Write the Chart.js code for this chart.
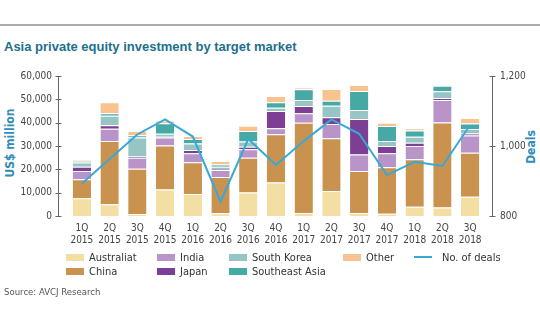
<!DOCTYPE html>
<html>
<head>
<meta charset="utf-8">
<script src="https://cdn.jsdelivr.net/npm/chart.js@4"></script>
<style>
  body { margin: 0; background: #fff; }
  #wrap { position: relative; width: 540px; height: 334px; overflow: hidden; font-family: "DejaVu Sans Condensed", "Liberation Sans Narrow", sans-serif; }
  #topline { position: absolute; left: 0; top: 24px; width: 540px; height: 2px; background: #aaa; }
  #title { position: absolute; left: 4px; top: 39px; font-family: "Liberation Sans Narrow", sans-serif; font-size: 13px; font-weight: bold; color: #1d6f8e; white-space: nowrap; }
  .ytitle { position: absolute; font-size: 12px; font-weight: bold; color: #2f8db8; white-space: nowrap; transform: translate(-50%, -50%) rotate(-90deg); }
  #source { position: absolute; left: 4px; top: 286px; font-size: 9.5px; color: #555; }
  .lg { position: absolute; font-size: 11px; color: #333; white-space: nowrap; line-height: 14px; }
  .lg i { display: inline-block; width: 18px; height: 7px; margin-right: 5px; vertical-align: 0px; }
  canvas { position: absolute; left: 0; top: 0; }
</style>
</head>
<body>
<div id="wrap">
  <div id="topline"></div>
  <div id="title">Asia private equity investment by target market</div>
  <div class="ytitle" style="left:10px; top:143px;">US$ million</div>
  <div class="ytitle" style="left:531px; top:147px;">Deals</div>
  <canvas id="g1" width="540" height="334"></canvas>
  <div id="legend"></div>
  <div id="source">Source: AVCJ Research</div>
</div>
<script>
// quarters on the x axis
var quarters = ['1Q','2Q','3Q','4Q','1Q','2Q','3Q','4Q','1Q','2Q','3Q','4Q','1Q','2Q','3Q'];
var years = ['2015','2015','2015','2015','2016','2016','2016','2016','2017','2017','2017','2017','2018','2018','2018'];

// investment by target market (US$ million)
var australia = [7600, 5000, 900, 11400, 9400, 1200, 10100, 14400, 1300, 10700, 1300, 1000, 4000, 3600, 8300];
var china     = [8100, 27100, 19300, 18800, 13600, 15500, 14900, 20600, 38700, 22600, 18000, 19900, 20300, 36500, 18800];
var india     = [3600, 5300, 4800, 3400, 3900, 3000, 3600, 2600, 4000, 6100, 7100, 6000, 5700, 9600, 7400];
var japan     = [1800, 1500, 500, 400, 1400, 400, 1100, 7400, 3100, 2900, 15200, 3100, 1400, 800, 900];
var southKorea = [1800, 4100, 8100, 1300, 2800, 1000, 2200, 1400, 2600, 5000, 3800, 2100, 2600, 3000, 1900];
var southeastAsia = [800, 1000, 1000, 4400, 1900, 1000, 4500, 2300, 4600, 2100, 8200, 6500, 2600, 2300, 2300];
var other     = [400, 4700, 1800, 1200, 1300, 1500, 2300, 2700, 700, 5000, 2500, 1400, 1000, 200, 2400];

// number of deals (right axis)
var deals = [893, 963, 1033, 1076, 1027, 841, 1020, 946, 1014, 1076, 1035, 917, 955, 943, 1060];

var labels = quarters.map(function(q, i) { return [q, years[i]]; });

var series = [
    { label: 'Australiat', data: australia, color: '#f3dfa3' },
    { label: 'China', data: china, color: '#c9924f' },
    { label: 'India', data: india, color: '#b994c9' },
    { label: 'Japan', data: japan, color: '#7c3f95' },
    { label: 'South Korea', data: southKorea, color: '#97c5c6' },
    { label: 'Southeast Asia', data: southeastAsia, color: '#47a9a6' },
    { label: 'Other', data: other, color: '#f8c38f' }
];
var lineColor = '#38a9d7';

var datasets = series.map(function(s) {
    return {
        label: s.label,
        data: s.data,
        backgroundColor: s.color,
        borderColor: '#fff',
        borderWidth: { top: 1, bottom: 0, left: 0, right: 0 },
        borderSkipped: false,
        barPercentage: 0.66,
        categoryPercentage: 1,
        stack: 's',
        yAxisID: 'y',
        order: 1
    };
});
datasets.push({
    type: 'line',
    label: 'No. of deals',
    data: deals,
    borderColor: lineColor,
    backgroundColor: lineColor,
    borderWidth: 2,
    pointRadius: 0,
    tension: 0,
    yAxisID: 'y1',
    order: 0
});

// axis lines sit a little outside the bars
var axisLines = {
    id: 'axisLines',
    afterDraw: function(chart) {
        var ctx = chart.ctx, a = chart.chartArea;
        var lx = Math.round(a.left - 10) + 0.5, rx = Math.round(a.right + 8) + 0.5;
        ctx.save();
        ctx.strokeStyle = '#666';
        ctx.lineWidth = 1;
        ctx.beginPath();
        ctx.moveTo(lx, a.top); ctx.lineTo(lx, a.bottom);
        ctx.moveTo(rx, a.top); ctx.lineTo(rx, a.bottom);
        chart.scales.y.ticks.forEach(function(t) {
            var y = Math.round(chart.scales.y.getPixelForValue(t.value)) + 0.5;
            ctx.moveTo(lx - 3, y); ctx.lineTo(lx + 3, y);
        });
        chart.scales.y1.ticks.forEach(function(t) {
            var y = Math.round(chart.scales.y1.getPixelForValue(t.value)) + 0.5;
            ctx.moveTo(rx - 3, y); ctx.lineTo(rx + 3, y);
        });
        ctx.stroke();
        ctx.restore();
    }
};

var tickFont = { family: '"DejaVu Sans Condensed", "Liberation Sans Narrow", sans-serif', size: 10 };

var myChart = new Chart(document.getElementById('g1'), {
    type: 'bar',
    data: { labels: labels, datasets: datasets },
    options: {
        responsive: false,
        animation: false,
        layout: { padding: { top: 76, bottom: 78, left: 0, right: 0 } },
        plugins: { legend: { display: false }, tooltip: { enabled: false } },
        scales: {
            x: {
                stacked: true,
                grid: { display: false, drawTicks: false },
                border: { display: false },
                ticks: { color: '#444', font: tickFont, padding: 6, maxRotation: 0, autoSkip: false },
                afterFit: function(s) { s.height = 40; }
            },
            y: {
                stacked: true,
                position: 'left',
                min: 0, max: 60000,
                ticks: { stepSize: 10000, color: '#444', font: tickFont, padding: 16 },
                grid: { display: false, drawTicks: false },
                border: { display: false },
                afterFit: function(s) { s.width = 68; }
            },
            y1: {
                position: 'right',
                min: 800, max: 1200,
                ticks: { stepSize: 200, color: '#444', font: tickFont, padding: 16 },
                grid: { display: false, drawTicks: false },
                border: { display: false },
                afterFit: function(s) { s.width = 56; }
            }
        }
    },
    plugins: [axisLines]
});

// legend laid out in columns like the original
var legendPos = [
    [66, 251], [66, 265], [157, 251], [157, 265], [229, 251], [229, 265], [343, 251]
];
var lg = document.getElementById('legend');
series.forEach(function(s, i) {
    var d = document.createElement('div');
    d.className = 'lg';
    d.style.left = legendPos[i][0] + 'px';
    d.style.top = legendPos[i][1] + 'px';
    d.innerHTML = '<i style="background:' + s.color + '"></i>' + s.label;
    lg.appendChild(d);
});
var dl = document.createElement('div');
dl.className = 'lg';
dl.style.left = '414px';
dl.style.top = '251px';
dl.innerHTML = '<i style="background:' + lineColor + ';height:2px;vertical-align:3px;margin-right:10px"></i>No. of deals';
lg.appendChild(dl);
</script>
</body>
</html>
